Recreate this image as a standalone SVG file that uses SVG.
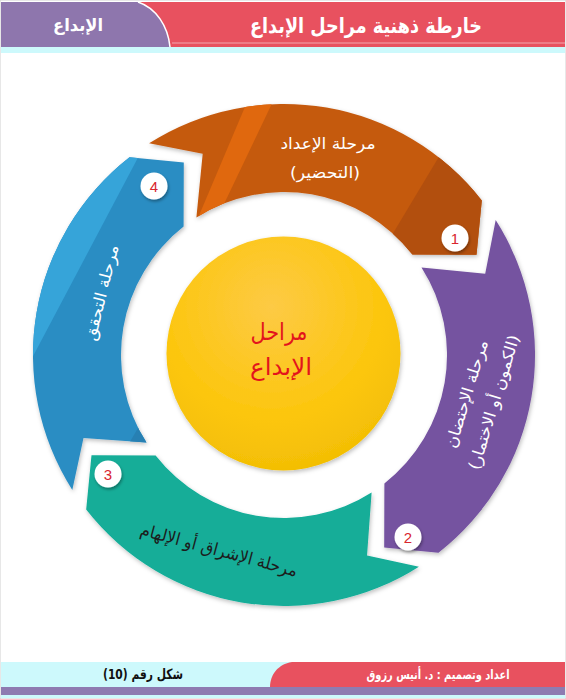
<svg xmlns="http://www.w3.org/2000/svg" width="566" height="699" viewBox="0 0 566 699">
<style>
.ar{font-family:'DejaVu Sans',sans-serif}
.lbl{font-family:'DejaVu Sans',sans-serif;font-size:16px;fill:#ffffff;text-anchor:middle}
.num{font-family:'Liberation Sans',Arial,sans-serif;font-size:15px;fill:#d9262e;text-anchor:middle}
.badge{fill:#ffffff;filter:url(#sh)}
</style>
<defs>
<filter id="sh" x="-30%" y="-30%" width="160%" height="160%">
<feDropShadow dx="1" dy="2" stdDeviation="1.5" flood-color="#000" flood-opacity="0.35"/>
</filter>
<filter id="shs" x="-10%" y="-10%" width="120%" height="120%">
<feDropShadow dx="1" dy="2" stdDeviation="2" flood-color="#000" flood-opacity="0.25"/>
</filter>
<radialGradient id="yel" cx="0.45" cy="0.3" r="0.8">
<stop offset="0" stop-color="#fdca45"/>
<stop offset="0.6" stop-color="#fcc60c"/>
<stop offset="1" stop-color="#efbb02"/>
</radialGradient>
<clipPath id="c1"><path d="M149.1,143.3 A251,251 0 0 1 481.8,200.5 L476.5,254.8 L412.4,254.6 A163,163 0 0 0 196.4,217.5 L202.7,153.8 Z"/></clipPath>
<clipPath id="c4"><path d="M72.3,489.9 A251,251 0 0 1 129.5,157.2 L183.8,162.5 L183.6,226.6 A163,163 0 0 0 146.5,442.6 L83.5,438 Z"/></clipPath>
</defs>
<rect x="0" y="0" width="566" height="699" fill="#ffffff"/>

<g id="header">
<rect x="0" y="0" width="566" height="699" fill="none" stroke="#d0d0d0" stroke-width="1"/>
<rect x="1" y="47" width="564" height="6" fill="#cdf9fc"/>
<path d="M130,2 L565,2 L565,47 L168,47 Z" fill="#e8515f"/>
<line x1="172" y1="43" x2="565" y2="43" stroke="#f3a8b0" stroke-width="1"/>
<path d="M1,2 L138,2 C156,8 168,26 170,47 L1,47 Z" fill="#8e76ad"/>
<path d="M138,2 C156,8 168,26 170,47" fill="none" stroke="#ffffff" stroke-width="1.5"/>
<text x="366" y="33" class="ar" font-size="21" font-weight="bold" fill="#ffffff" text-anchor="middle" textLength="232" lengthAdjust="spacingAndGlyphs">خارطة ذهنية مراحل الإبداع</text>
<text x="78" y="31" class="ar" font-size="17" font-weight="bold" fill="#ffffff" text-anchor="middle" textLength="50" lengthAdjust="spacingAndGlyphs">الإبداع</text>
</g>

<g id="seg1">
<path d="M149.1,143.3 A251,251 0 0 1 481.8,200.5 L476.5,254.8 L412.4,254.6 A163,163 0 0 0 196.4,217.5 L202.7,153.8 Z" fill="#c55a11" filter="url(#shs)"/>
<g clip-path="url(#c1)">
<polygon points="250,95 276,95 214,225 195,225" fill="#e0680e"/>
<polygon points="461,120 566,120 566,320 341,320" fill="#b24f0e"/>
</g>
<text x="328" y="149" class="lbl" textLength="95" lengthAdjust="spacingAndGlyphs">مرحلة الإعداد</text>
<text x="325" y="178" class="lbl" textLength="70" lengthAdjust="spacingAndGlyphs">(التحضير)</text>
<circle cx="455" cy="238" r="13.5" class="badge"/>
<text x="455" y="243.5" class="num">1</text>
</g>

<g id="seg2">
<path d="M495.7,220.1 A251,251 0 0 1 438.5,552.8 L384.2,547.5 L384.4,483.4 A163,163 0 0 0 421.5,267.4 L485.2,273.7 Z" fill="#7452a0" filter="url(#shs)"/>
<g transform="translate(480,398) rotate(-73)">
<text x="0" y="-8.5" class="lbl" textLength="112" lengthAdjust="spacingAndGlyphs">مرحلة الإحتضان</text>
<text x="0" y="20" class="lbl" textLength="140" lengthAdjust="spacingAndGlyphs">(الكمون أو الاختمار)</text>
</g>
<circle cx="408" cy="537" r="13.5" class="badge"/>
<text x="408" y="542.5" class="num">2</text>
</g>

<g id="seg3">
<path d="M418.9,566.7 A251,251 0 0 1 86.2,509.5 L91.5,455.2 L155.6,455.4 A163,163 0 0 0 371.6,492.5 L367,555.5 Z" fill="#12ad98" filter="url(#shs)"/>
<g transform="translate(219,550) rotate(15)">
<text x="0" y="6" class="ar" font-size="17" fill="#1c1c1c" text-anchor="middle" textLength="162" lengthAdjust="spacingAndGlyphs">مرحلة الإشراق أو الإلهام</text>
</g>
<circle cx="108" cy="474" r="13.5" class="badge"/>
<text x="108" y="479.5" class="num">3</text>
</g>

<g id="seg4">
<path d="M72.3,489.9 A251,251 0 0 1 129.5,157.2 L183.8,162.5 L183.6,226.6 A163,163 0 0 0 146.5,442.6 L83.5,438 Z" fill="#2b8dc3" filter="url(#shs)"/>
<g clip-path="url(#c4)">
<polygon points="20,150 142,150 30,362 20,362" fill="#36a4d9"/>
<polygon points="124,452 165,452 165,398 152,404" fill="#2780b3"/>
</g>
<g transform="translate(101.5,292.5) rotate(-76)">
<text x="0" y="5.5" class="lbl" textLength="98" lengthAdjust="spacingAndGlyphs">مرحلة التحقق</text>
</g>
<circle cx="154" cy="186" r="13.5" class="badge"/>
<text x="154" y="191.5" class="num">4</text>
</g>

<g id="center">
<circle cx="283.5" cy="353.5" r="117" fill="url(#yel)" filter="url(#shs)"/>
<text x="279" y="340" class="ar" font-size="24" fill="#e3141c" text-anchor="middle" textLength="57" lengthAdjust="spacingAndGlyphs">مراحل</text>
<text x="281" y="375" class="ar" font-size="24" fill="#e3141c" text-anchor="middle" textLength="62" lengthAdjust="spacingAndGlyphs">الإبداع</text>
</g>

<g id="connectors"/>

<g id="footer">
<rect x="1" y="662" width="564" height="25" fill="#cdf9fc"/>
<path d="M292,662 L565,662 L565,687 L270,687 C270,675 278,664 292,662 Z" fill="#e8515f"/>
<rect x="1" y="687" width="564" height="8" fill="#8e7bb1"/>
<rect x="1" y="695" width="564" height="3" fill="#cdf9fc"/>
<text x="143" y="679" class="ar" font-size="14" font-weight="bold" fill="#111111" text-anchor="middle" textLength="80" lengthAdjust="spacingAndGlyphs">شكل رقم (10)</text>
<text x="438" y="679" class="ar" font-size="13" font-weight="bold" fill="#ffffff" text-anchor="middle" textLength="143" lengthAdjust="spacingAndGlyphs">اعداد وتصميم : د. أنيس رزوق</text>
</g>
</svg>
